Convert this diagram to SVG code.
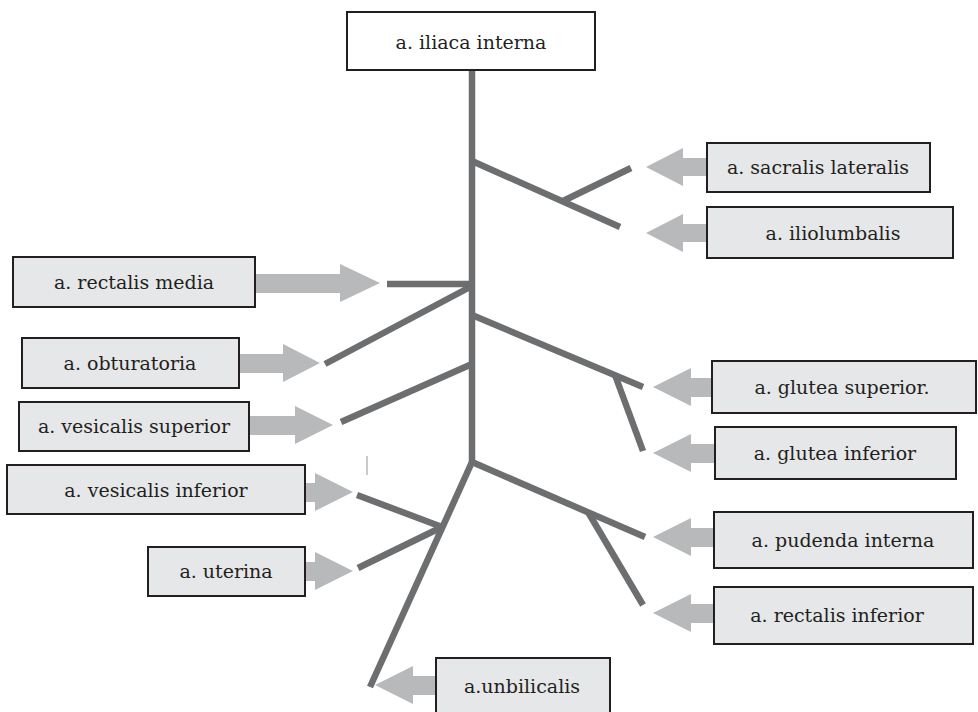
<svg xmlns="http://www.w3.org/2000/svg" width="978" height="712" viewBox="0 0 978 712">
<style>
.box{fill:#e6e7e8;stroke:#231f20;stroke-width:2}
.top{fill:#ffffff;stroke:#231f20;stroke-width:2}
.lbl{font-family:"DejaVu Serif","Liberation Serif",serif;font-size:19px;fill:#231f20;text-anchor:middle}
.art{stroke:#6d6e70;stroke-width:6.5;fill:none;stroke-linecap:butt}
.arr{fill:#b8b9bb}
</style>
<rect width="978" height="712" fill="#ffffff"/>
<g id="connectors">
<g class="art">
<line x1="472" y1="70" x2="472" y2="464"/>
<line x1="472" y1="161" x2="620" y2="227"/>
<line x1="563" y1="201" x2="631" y2="168"/>
<line x1="387" y1="284" x2="472" y2="284"/>
<line x1="472" y1="286" x2="325" y2="364"/>
<line x1="472" y1="364" x2="341" y2="422"/>
<line x1="472" y1="315" x2="643" y2="387"/>
<line x1="615" y1="375" x2="643" y2="451"/>
<line x1="472" y1="462" x2="645" y2="537"/>
<line x1="588" y1="512" x2="643" y2="605"/>
<line x1="472" y1="462" x2="370" y2="687"/>
<line x1="357" y1="495" x2="442" y2="527"/>
<line x1="358" y1="568" x2="442" y2="527"/>
</g>
<line x1="367" y1="456" x2="367" y2="475" stroke="#b8b9bb" stroke-width="1.5"/>
<g class="arr">
<polygon points="646,167 683,148 683,158 707,158 707,176 683,176 683,186"/>
<polygon points="646,233 683,214 683,224 707,224 707,242 683,242 683,252"/>
<polygon points="653,387 691,368 691,378 712,378 712,397 691,397 691,406"/>
<polygon points="653,453 691,434 691,444 715,444 715,463 691,463 691,472"/>
<polygon points="653,537 691,518 691,528 714,528 714,547 691,547 691,556"/>
<polygon points="653,613 691,594 691,604 714,604 714,623 691,623 691,632"/>
<polygon points="375,685 413,666 413,676 436,676 436,695 413,695 413,704"/>
<polygon points="380,283 340,264 340,274 255,274 255,293 340,293 340,302"/>
<polygon points="320,363 283,344 283,354 239,354 239,373 283,373 283,382"/>
<polygon points="333,425 295,406 295,416 249,416 249,435 295,435 295,444"/>
<polygon points="353,492 315,473 315,483 305,483 305,502 315,502 315,511"/>
<polygon points="353,571 315,552 315,562 305,562 305,581 315,581 315,590"/>
</g>
</g>
<g id="iliaca_interna"><rect class="top" x="347" y="12" width="248" height="58"/><text class="lbl" x="471" y="49">a. iliaca interna</text></g>
<g id="sacralis_lateralis"><rect class="box" x="707" y="143" width="223" height="49"/><text class="lbl" x="818" y="174">a. sacralis lateralis</text></g>
<g id="iliolumbalis"><rect class="box" x="707" y="207" width="246" height="51"/><text class="lbl" x="833" y="240">a. iliolumbalis</text></g>
<g id="rectalis_media"><rect class="box" x="13" y="257" width="242" height="50"/><text class="lbl" x="134" y="289">a. rectalis media</text></g>
<g id="obturatoria"><rect class="box" x="22" y="338" width="217" height="50"/><text class="lbl" x="130" y="370">a. obturatoria</text></g>
<g id="vesicalis_superior"><rect class="box" x="19" y="402" width="230" height="49"/><text class="lbl" x="134" y="433">a. vesicalis superior</text></g>
<g id="vesicalis_inferior"><rect class="box" x="7" y="465" width="298" height="49"/><text class="lbl" x="156" y="497">a. vesicalis inferior</text></g>
<g id="uterina"><rect class="box" x="148" y="547" width="157" height="49"/><text class="lbl" x="226" y="578">a. uterina</text></g>
<g id="glutea_superior"><rect class="box" x="712" y="361" width="264" height="52"/><text class="lbl" x="842" y="394">a. glutea superior.</text></g>
<g id="glutea_inferior"><rect class="box" x="715" y="427" width="241" height="52"/><text class="lbl" x="835" y="460">a. glutea inferior</text></g>
<g id="pudenda_interna"><rect class="box" x="714" y="512" width="259" height="56"/><text class="lbl" x="843" y="547">a. pudenda interna</text></g>
<g id="rectalis_inferior"><rect class="box" x="714" y="587" width="259" height="57"/><text class="lbl" x="837" y="622">a. rectalis inferior</text></g>
<g id="unbilicalis"><rect class="box" x="436" y="658" width="174" height="62"/><text class="lbl" x="522" y="693">a.unbilicalis</text></g>
</svg>
